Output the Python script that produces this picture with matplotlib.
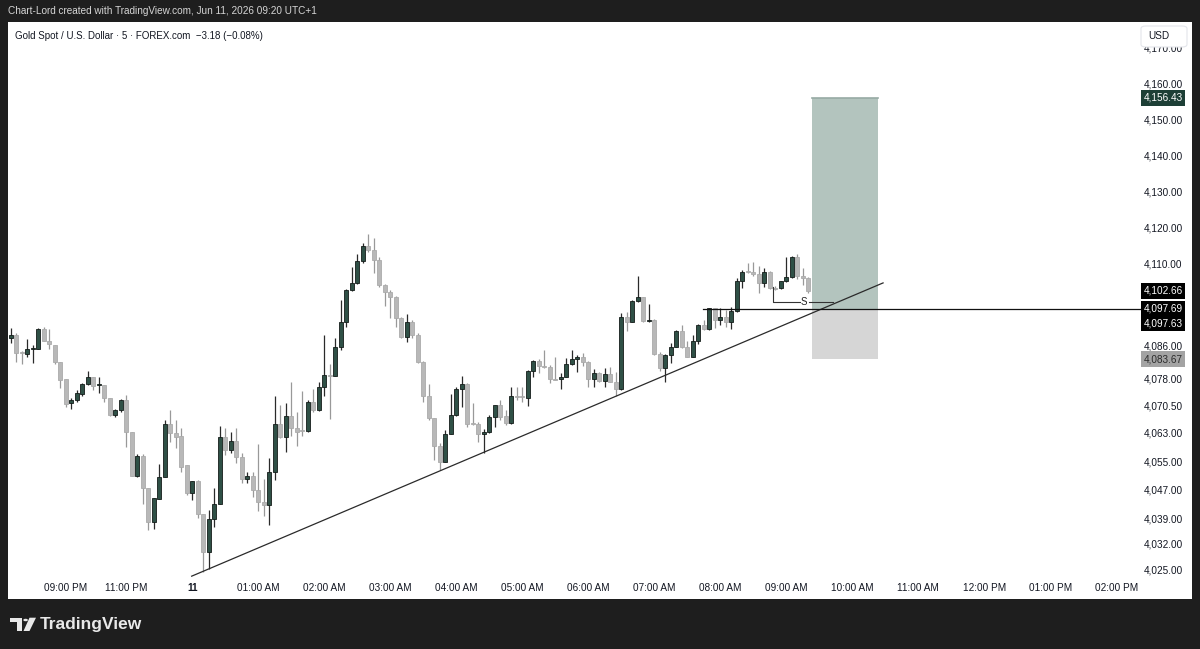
import matplotlib
matplotlib.use("Agg")
import matplotlib.pyplot as plt
from matplotlib.patches import Rectangle, FancyBboxPatch, Polygon, Circle
from matplotlib.transforms import blended_transform_factory

plt.rcParams["font.family"] = ["Liberation Sans", "DejaVu Sans"]

# 5-minute bars, index 1 = first visible bar, 34 = midnight, 146 = 09:20 AM
opens = [4089.5, 4090.4, 4085.5, 4085.1, 4086.4, 4086.5, 4092.0, 4088.8, 4087.6, 4083.0,
         4078.1, 4071.4, 4072.3, 4074.0, 4076.8, 4078.6, 4076.4, 4076.5, 4072.8, 4068.2,
         4069.4, 4072.3, 4063.5, 4051.3, 4056.6, 4047.7, 4038.5, 4044.8, 4050.8, 4065.7,
         4063.1, 4062.3, 4054.1, 4046.4, 4049.8, 4040.6, 4029.9, 4039.1, 4043.3, 4061.9,
         4058.4, 4061.0, 4056.4, 4050.3, 4051.3, 4047.3, 4044.0, 4043.1, 4052.4, 4065.6,
         4061.9, 4068.0, 4064.4, 4063.9, 4063.7, 4071.9, 4069.5, 4076.0, 4079.3, 4079.1,
         4087.2, 4094.0, 4102.9, 4104.8, 4111.1, 4115.2, 4114.1, 4111.3, 4104.3, 4102.5,
         4101.1, 4095.1, 4089.8, 4094.1, 4090.4, 4083.0, 4073.5, 4067.2, 4059.6, 4055.2,
         4062.9, 4068.1, 4075.3, 4076.8, 4065.9, 4065.7, 4062.8, 4063.5, 4067.7, 4070.8,
         4067.9, 4065.8, 4073.4, 4073.3, 4073.0, 4080.4, 4083.2, 4081.8, 4081.6, 4078.2,
         4078.1, 4078.8, 4082.4, 4083.7, 4084.2, 4083.0, 4078.2, 4079.8, 4077.7, 4079.6,
         4077.2, 4075.3, 4095.3, 4094.1, 4099.9, 4100.9, 4094.4, 4094.6, 4085.0, 4081.1,
         4084.9, 4087.2, 4091.5, 4087.0, 4084.4, 4088.6, 4093.2, 4092.0, 4097.8, 4094.6,
         4095.3, 4093.9, 4097.1, 4105.5, 4108.1, 4108.0, 4107.5, 4105.0, 4107.9, 4103.5,
         4103.4, 4105.3, 4106.5, 4112.2, 4106.8, 4106.2]
highs = [4092.3, 4090.9, 4085.9, 4089.2, 4087.6, 4092.3, 4092.7, 4092.0, 4087.6, 4083.0,
         4078.1, 4072.8, 4075.1, 4077.0, 4080.5, 4078.6, 4078.6, 4076.5, 4072.8, 4069.7,
         4072.5, 4073.6, 4063.5, 4057.2, 4057.2, 4047.7, 4045.0, 4054.4, 4066.8, 4069.5,
         4066.8, 4064.4, 4054.1, 4049.8, 4050.1, 4040.6, 4041.7, 4047.7, 4065.1, 4064.4,
         4063.5, 4064.4, 4057.5, 4052.4, 4052.4, 4060.0, 4050.3, 4056.1, 4073.3, 4071.0,
         4071.4, 4077.3, 4069.1, 4074.9, 4072.2, 4075.4, 4077.4, 4090.4, 4082.3, 4089.7,
         4100.2, 4103.2, 4109.2, 4112.9, 4116.0, 4118.4, 4117.5, 4112.0, 4104.5, 4102.9,
         4101.3, 4095.5, 4096.2, 4094.6, 4090.9, 4083.2, 4076.7, 4067.4, 4060.3, 4064.0,
         4074.0, 4075.8, 4079.0, 4077.0, 4071.6, 4066.3, 4064.2, 4068.1, 4071.0, 4072.3,
         4069.4, 4075.9, 4075.8, 4075.9, 4080.6, 4083.5, 4083.8, 4086.1, 4082.1, 4084.2,
         4079.8, 4083.9, 4086.3, 4084.9, 4085.3, 4083.1, 4080.9, 4080.2, 4081.1, 4081.6,
         4080.2, 4096.4, 4096.9, 4100.2, 4106.8, 4101.1, 4099.0, 4094.8, 4085.8, 4085.1,
         4088.3, 4091.8, 4093.2, 4088.6, 4090.4, 4093.4, 4094.6, 4097.9, 4097.9, 4098.0,
         4097.4, 4098.3, 4106.2, 4108.5, 4110.4, 4110.8, 4109.6, 4109.0, 4108.3, 4104.0,
         4105.5, 4112.2, 4112.4, 4113.0, 4109.0, 4106.5]
lows = [4088.1, 4083.0, 4082.4, 4084.4, 4082.7, 4086.4, 4088.6, 4086.4, 4082.4, 4075.6,
        4070.3, 4069.7, 4071.9, 4073.4, 4076.5, 4075.1, 4074.2, 4071.9, 4068.0, 4067.7,
        4069.1, 4059.3, 4051.2, 4050.8, 4043.4, 4036.2, 4036.3, 4044.8, 4050.8, 4060.7,
        4058.9, 4052.4, 4045.9, 4044.5, 4039.4, 4024.6, 4025.2, 4037.1, 4043.3, 4057.0,
        4057.7, 4054.9, 4049.3, 4049.3, 4045.4, 4041.3, 4040.1, 4037.5, 4050.1, 4061.7,
        4057.8, 4062.4, 4059.6, 4062.4, 4063.5, 4069.1, 4069.3, 4073.3, 4067.0, 4078.9,
        4086.2, 4092.7, 4102.7, 4104.6, 4110.4, 4113.6, 4107.6, 4103.9, 4098.6, 4095.1,
        4092.7, 4089.5, 4088.4, 4089.5, 4082.5, 4071.9, 4066.8, 4055.6, 4052.9, 4055.0,
        4062.9, 4067.9, 4070.5, 4064.9, 4065.5, 4060.7, 4057.5, 4063.2, 4064.9, 4066.8,
        4065.4, 4065.6, 4072.3, 4071.9, 4070.7, 4078.8, 4079.8, 4081.1, 4077.0, 4077.9,
        4075.3, 4078.6, 4082.1, 4080.2, 4081.8, 4075.9, 4075.9, 4077.2, 4075.8, 4077.2,
        4073.4, 4075.1, 4091.4, 4093.9, 4099.7, 4094.1, 4094.1, 4084.8, 4080.4, 4077.2,
        4082.7, 4087.0, 4086.7, 4084.2, 4084.2, 4087.9, 4091.8, 4091.8, 4092.3, 4093.2,
        4092.7, 4092.0, 4096.9, 4103.4, 4107.6, 4106.8, 4102.2, 4103.9, 4103.2, 4103.0,
        4103.1, 4105.1, 4106.2, 4105.9, 4104.3, 4102.2]
closes = [4090.4, 4085.3, 4085.3, 4086.5, 4086.5, 4092.0, 4088.8, 4087.8, 4083.0, 4077.9,
          4071.2, 4072.3, 4074.2, 4076.8, 4078.6, 4076.3, 4076.5, 4073.0, 4068.2, 4069.4,
          4072.3, 4063.5, 4051.3, 4056.6, 4047.7, 4038.5, 4045.0, 4050.8, 4065.7, 4063.1,
          4062.1, 4053.8, 4046.4, 4049.8, 4040.6, 4029.9, 4039.1, 4043.3, 4061.9, 4058.4,
          4061.0, 4056.4, 4050.3, 4051.3, 4047.3, 4043.9, 4043.1, 4052.4, 4065.6, 4061.9,
          4068.0, 4064.4, 4063.5, 4063.7, 4071.9, 4069.5, 4076.0, 4079.3, 4079.0, 4087.2,
          4094.0, 4102.9, 4104.8, 4111.1, 4115.2, 4114.1, 4111.3, 4104.3, 4102.5, 4101.1,
          4095.1, 4089.8, 4094.1, 4090.4, 4083.0, 4073.5, 4067.2, 4059.6, 4055.2, 4062.9,
          4068.1, 4075.4, 4076.8, 4065.7, 4065.7, 4062.8, 4063.5, 4067.7, 4070.8, 4067.7,
          4065.8, 4073.4, 4073.2, 4073.2, 4080.4, 4083.2, 4081.8, 4081.4, 4078.1, 4078.0,
          4078.8, 4082.4, 4083.7, 4084.2, 4083.0, 4078.2, 4079.8, 4077.7, 4079.6, 4077.2,
          4075.3, 4095.3, 4094.1, 4099.9, 4100.9, 4094.3, 4094.6, 4085.0, 4081.1, 4084.9,
          4087.2, 4091.5, 4087.0, 4084.4, 4088.6, 4093.2, 4092.0, 4097.8, 4094.6, 4095.3,
          4093.9, 4097.1, 4105.5, 4108.0, 4107.9, 4107.5, 4105.0, 4107.9, 4103.4, 4103.3,
          4105.3, 4106.5, 4112.2, 4106.8, 4106.2, 4102.66]
bar_idx = list(range(1, len(closes) + 1))

# time axis
time_labels = ["09:00 PM", "11:00 PM", "11", "01:00 AM", "02:00 AM", "03:00 AM", "04:00 AM",
               "05:00 AM", "06:00 AM", "07:00 AM", "08:00 AM", "09:00 AM", "10:00 AM",
               "11:00 AM", "12:00 PM", "01:00 PM", "02:00 PM"]
time_pos = [11, 22, 34, 46, 58, 70, 82, 94, 106, 118, 130, 142, 154, 166, 178, 190, 202]

# price axis
price_ticks = [4170, 4160, 4150, 4140, 4130, 4120, 4110, 4086, 4078, 4070.5,
               4063, 4055, 4047, 4039, 4032, 4025]
badge_prices = [4156.43, 4102.66, 4097.69, 4097.63, 4083.67]
badge_colors = ["#1d3f36", "#000000", "#000000", "#000000", "#a3a3a3"]
badge_text_colors = ["white", "white", "white", "white", "#2b2b2b"]

# drawings
trend_x = [33.9, 159.6]
trend_y = [4023.3, 4104.9]
level_start = 126.9
level_price = 4097.69
box_x = [146.7, 158.7]
target_price = 4156.43
entry_price = 4097.69
stop_price = 4083.67
marker_x = [139.65, 145.2, 150.5]
marker_y = [4103.9, 4099.7]

W, H = 1200, 649
DARK = "#1e1e1e"


def fx(x):
    return x / W


def fy(y):
    return 1 - y / H


fig = plt.figure(figsize=(W / 100, H / 100), dpi=100, facecolor=DARK)

# white panel
panel = fig.add_axes([fx(8), fy(599), fx(1192 - 8), (599 - 22) / H], zorder=-5)
panel.set_facecolor("white")
panel.set_xticks([])
panel.set_yticks([])
for s in panel.spines.values():
    s.set_visible(False)

ax = fig.add_axes([fx(8), fy(577), fx(1135 - 8), (577 - 22) / H])
ax.set_facecolor("none")
ax.set_xlim(0.51, 205.4)
ax.set_ylim(4023.07, 4177.5)
ax.set_xticks([])
ax.set_yticks([])
for s in ax.spines.values():
    s.set_visible(False)

# candles
up = [c >= o for o, c in zip(opens, closes)]
for i, k in enumerate(bar_idx):
    o, h, l, c = opens[i], highs[i], lows[i], closes[i]
    if up[i]:
        face, edge, wick = "#2f5046", "#141c19", "#2a2a2a"
    else:
        face, edge, wick = "#b8b8b8", "#ababab", "#999999"
    ax.vlines(k, l, h, color=wick, linewidth=0.9, zorder=2)
    lo = min(o, c)
    ht = max(abs(c - o), 0.3)
    ax.bar(k, ht, bottom=lo, width=0.7, color=face, edgecolor=edge, linewidth=0.6, zorder=3)

# long position box
ax.add_patch(Rectangle((box_x[0], entry_price), box_x[1] - box_x[0], target_price - entry_price,
                       facecolor="#b3c4be", edgecolor="none", zorder=1))
ax.add_patch(Rectangle((box_x[0], stop_price), box_x[1] - box_x[0], entry_price - stop_price,
                       facecolor="#d6d6d6", edgecolor="none", zorder=1))
ax.plot(box_x, [target_price, target_price], color="#97aaa4", linewidth=1.2, zorder=1)

# trendline and level
ax.plot(trend_x, trend_y, color="#2a2a2a", linewidth=0.9, zorder=4)
ax.plot([level_start, 206.5], [level_price, level_price], color="#111111", linewidth=0.9,
        zorder=4, clip_on=False)

# S marker
mk = "#333333"
ax.plot([marker_x[0], marker_x[0], marker_x[1] - 0.7], [marker_y[0], marker_y[1], marker_y[1]],
        color=mk, linewidth=0.8, zorder=4)
ax.plot([marker_x[1] + 0.9, marker_x[2]], [marker_y[1], marker_y[1]], color=mk, linewidth=0.8, zorder=4)
ax.text(marker_x[1], marker_y[1], "S", fontsize=7, color="#222222", ha="center", va="center", zorder=5)

# price axis labels
ytr = blended_transform_factory(ax.transAxes, ax.transData)
xpos = (1163 - 8) / (1135 - 8)
for p in price_ticks:
    dy = 1.2 if p == 4086 else 0
    ax.text(xpos, p + dy, f"{p:,.2f}", transform=ytr, fontsize=7.2, color="#131722",
            ha="center", va="center", clip_on=False)
badge_offsets = [0, 0, 0, -4.0, 0]
for p, bc, tc, off in zip(badge_prices, badge_colors, badge_text_colors, badge_offsets):
    ax.text(xpos, p + off, f"{p:,.2f}", transform=ytr, fontsize=7.2, color=tc, ha="center",
            va="center", clip_on=False, zorder=6,
            bbox=dict(boxstyle="square,pad=0.28", facecolor=bc, edgecolor="none"))

# time axis labels
xtr = blended_transform_factory(ax.transData, ax.transAxes)
for lab, k in zip(time_labels, time_pos):
    ax.text(k, -11 / 555, lab, transform=xtr, fontsize=7.2, color="#131722", ha="center",
            va="center", clip_on=False, fontweight="bold" if lab == "11" else "normal")

# USD box over the top price label
fig.add_artist(FancyBboxPatch((fx(1141), fy(47)), fx(46), 21 / H,
                              boxstyle="round,pad=0,rounding_size=0.004",
                              transform=fig.transFigure, facecolor="white",
                              edgecolor="#e3e5ea", linewidth=0.8, zorder=10))
fig.text(fx(1148), fy(36), "USD", fontsize=7.2, color="#131722", va="center", zorder=11)

# header texts
fig.text(fx(8), fy(11), "Chart-Lord created with TradingView.com, Jun 11, 2026 09:20 UTC+1",
         fontsize=7.2, color="#d6d6d6", va="center")
fig.text(fx(15), fy(36), "Gold Spot / U.S. Dollar · 5 · FOREX.com  \u22123.18 (\u22120.08%)",
         fontsize=7.0, color="#131722", va="center")

# TradingView logo
logo = "#e8e8e8"
fig.add_artist(Polygon([(fx(10), fy(617.7)), (fx(22), fy(617.7)), (fx(22), fy(631)),
                        (fx(16.7), fy(631)), (fx(16.7), fy(622.3)), (fx(10), fy(622.3))],
                       closed=True, transform=fig.transFigure, facecolor=logo, edgecolor="none"))
fig.add_artist(Circle((fx(25.6), fy(620)), 2.3 / W, transform=fig.transFigure,
                      facecolor=logo, edgecolor="none"))
fig.add_artist(Polygon([(fx(29.5), fy(617.7)), (fx(36), fy(617.7)), (fx(29.5), fy(631)),
                        (fx(23.5), fy(631))],
                       closed=True, transform=fig.transFigure, facecolor=logo, edgecolor="none"))
fig.text(fx(40), fy(624.5), "TradingView", fontsize=12.5, fontweight="bold", color=logo,
         va="center")

fig.savefig("out.png", dpi=100, facecolor=DARK)
